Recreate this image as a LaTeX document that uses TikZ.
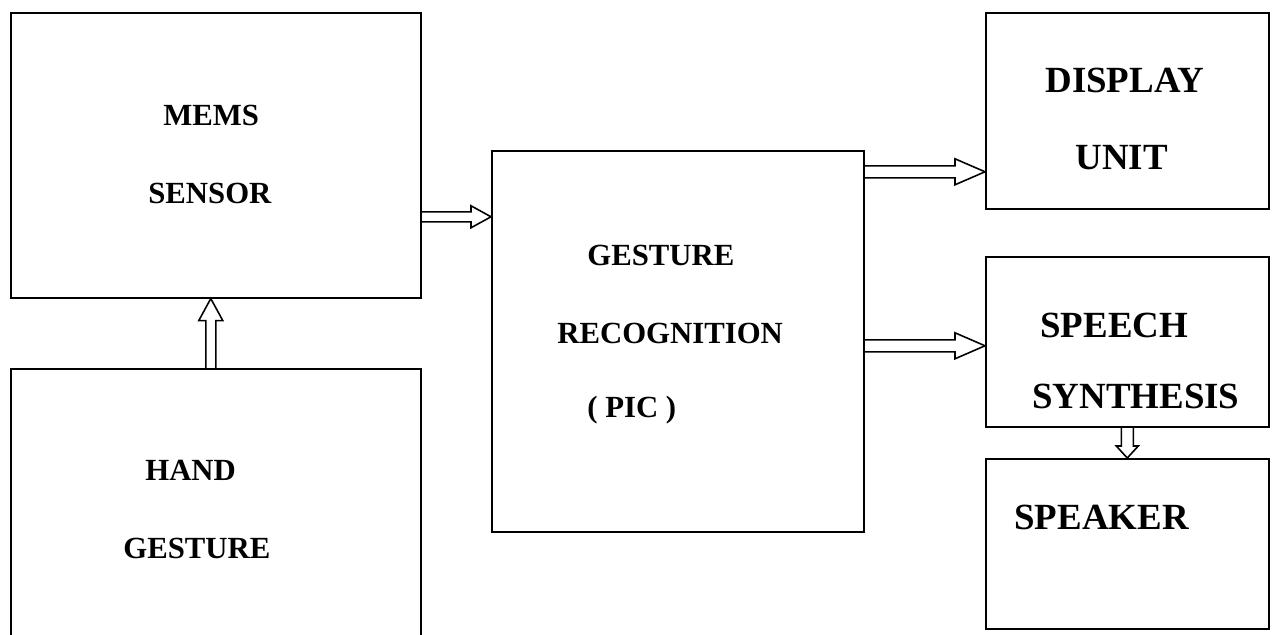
\documentclass[tikz,border=0pt]{standalone}
\usepackage{fontspec}
\setmainfont{Liberation Serif}
\usetikzlibrary{calc}

\tikzset{
  block/.style={draw, line width=0.9pt, inner sep=0pt, anchor=north west},
  blocktext/.style={font=\fontsize{17.5}{21}\selectfont\bfseries, inner sep=0pt, anchor=west},
  bigtext/.style={blocktext, font=\fontsize{21}{25}\selectfont\bfseries},
  fatline/.style={draw, line width=0.9pt, line join=miter}
}

% hollow arrow: start, end, shaft half width, head half width, head length
\newcommand\fatarrow[5]{%
  \path[fatline] let \p1=(#1), \p2=(#2),
      \n1={atan2(\y2-\y1,\x2-\x1)}, \n2={veclen(\x2-\x1,\y2-\y1)} in
    [shift={(\p1)}, rotate=\n1]
    (0,-#3) -- ({\n2*1pt-#5},-#3) -- ({\n2*1pt-#5},-#4) -- ({\n2*1pt},0)
    -- ({\n2*1pt-#5},#4) -- ({\n2*1pt-#5},#3) -- (0,#3);
}

\begin{document}
\begin{tikzpicture}
\clip (0,0) rectangle (25.56,-12.7);

\node[block, minimum width=8.2cm, minimum height=5.7cm] (mems) at (0.2,-0.24) {};
\node[block, minimum width=8.2cm, minimum height=6cm] (hand) at (0.2,-7.36) {};
\node[block, minimum width=7.44cm, minimum height=7.62cm] (gest) at (9.82,-3.0) {};
\node[block, minimum width=5.66cm, minimum height=3.92cm] (disp) at (19.7,-0.24) {};
\node[block, minimum width=5.66cm, minimum height=3.4cm] (speech) at (19.7,-5.12) {};
\node[block, minimum width=5.66cm, minimum height=3.4cm] (spk) at (19.7,-9.16) {};

% labels
\node[blocktext] (mems1) at (3.26,-2.30) {MEMS};
\node[blocktext] (mems2) at (2.96,-3.86) {SENSOR};
\node[blocktext] (hand1) at (2.90,-9.40) {HAND};
\node[blocktext] (hand2) at (2.46,-10.96) {GESTURE};
\node[blocktext] (gest1) at (11.74,-5.10) {GESTURE};
\node[blocktext] (gest2) at (11.14,-6.66) {RECOGNITION};
\node[blocktext] (gest3) at (11.74,-8.20) {( PIC )};
\node[bigtext] (disp1) at (20.90,-1.60) {DISPLAY};
\node[bigtext] (disp2) at (21.50,-3.16) {UNIT};
\node[bigtext] (speech1) at (20.80,-6.50) {SPEECH};
\node[bigtext] (speech2) at (20.64,-7.92) {SYNTHESIS};
\node[bigtext] (spk1) at (20.28,-10.34) {SPEAKER};

% connectors
\fatarrow{[yshift=-1.23cm]mems.east}{[yshift=2.49cm]gest.west}{0.1cm}{0.22cm}{0.4cm}
\fatarrow{[yshift=3.39cm]gest.east}{[yshift=-1.22cm]disp.west}{0.12cm}{0.26cm}{0.6cm}
\fatarrow{[yshift=-0.09cm]gest.east}{[yshift=-0.08cm]speech.west}{0.12cm}{0.26cm}{0.6cm}
\fatarrow{[xshift=-0.1cm]hand.north}{[xshift=-0.1cm]mems.south}{0.1cm}{0.24cm}{0.44cm}
\fatarrow{speech.south}{spk.north}{0.12cm}{0.22cm}{0.24cm}
\end{tikzpicture}
\end{document}
